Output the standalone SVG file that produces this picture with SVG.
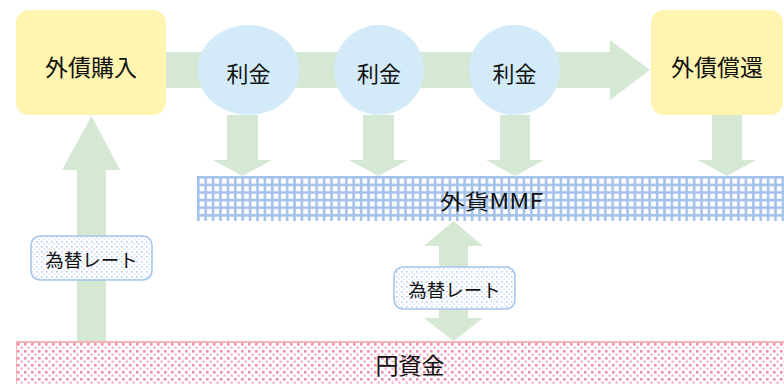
<svg xmlns="http://www.w3.org/2000/svg" width="784" height="384" viewBox="0 0 784 384">
<defs>
<pattern id="grid" x="197" y="176" width="7.4" height="7.6" patternUnits="userSpaceOnUse">
<rect width="7.4" height="7.6" fill="#ffffff"/>
<rect x="0" y="0" width="2.6" height="7.6" fill="#a4c2ea"/>
<rect x="0" y="0" width="7.4" height="2.6" fill="#a4c2ea"/>
</pattern>
<pattern id="pinkdots" x="16" y="342" width="7" height="7" patternUnits="userSpaceOnUse">
<rect width="7" height="7" fill="#ffffff"/>
<rect x="1" y="1" width="2.6" height="2.6" fill="#ef8db4"/>
<rect x="4.5" y="4.5" width="2.2" height="2.2" fill="#f4aac6"/>
</pattern>
<pattern id="bluedots" width="5" height="5" patternUnits="userSpaceOnUse">
<rect width="5" height="5" fill="#ffffff"/>
<rect x="1" y="1" width="1.6" height="1.6" fill="#b6cff0"/>
<rect x="3.5" y="3.5" width="1.4" height="1.4" fill="#cbdcf4"/>
</pattern>
</defs>
<style>
.arrow{fill:#d5e8d4}
.box{fill:#fff5b0}
.circ{fill:#d3ebf8}
.t{font-family:"Noto Sans CJK JP","Noto Sans",sans-serif;fill:#111;text-anchor:middle;dominant-baseline:central}
.big{font-size:23px}
.cir{font-size:22px}
.mid{font-size:21px}
.small{font-size:18.5px}
.lbl{fill:url(#bluedots);stroke:#a6c3ec;stroke-width:1.5}
</style>
<g id="connectors">
<polygon class="arrow" points="166,52 610,52 610,40 650,70 610,100 610,88 166,88"/>
<polygon class="arrow" points="227,115 258,115 258,160 272,160 242.5,176 213,160 227,160"/>
<polygon class="arrow" points="363,115 394,115 394,160 408,160 378.5,176 349,160 363,160"/>
<polygon class="arrow" points="500,115 530,115 530,160 544,160 515,176 486,160 500,160"/>
<polygon class="arrow" points="712,115 742,115 742,160 756,160 727,176 698,160 712,160"/>
<polygon class="arrow" points="77,341 106,341 106,170 120,170 91.5,116 62,170 77,170"/>
<polygon class="arrow" points="453.5,221 483,246 468,246 468,318 483,318 453.5,341 424,318 439,318 439,246 424,246"/>
</g>
<g id="mmf">
<rect x="197" y="176" width="587" height="45" fill="url(#grid)"/>
<text class="t mid" x="491.5" y="200" textLength="103" lengthAdjust="spacingAndGlyphs">外貨MMF</text>
</g>
<g id="yen">
<rect x="16" y="342" width="768" height="42" fill="url(#pinkdots)"/>
<line x1="16" y1="342" x2="784" y2="342" stroke="#f4b4b4" stroke-width="2"/>
<line x1="16.5" y1="342" x2="16.5" y2="384" stroke="#f4b4b4" stroke-width="1"/>
<text class="t big" x="410" y="364">円資金</text>
</g>
<g id="buy">
<rect class="box" x="16" y="10" width="150" height="105" rx="13"/>
<text class="t big" x="91" y="66">外債購入</text>
</g>
<g id="repay">
<rect class="box" x="651" y="10" width="132" height="105" rx="13"/>
<text class="t big" x="717" y="66">外債償還</text>
</g>
<g id="int1">
<ellipse class="circ" cx="248.5" cy="70" rx="51" ry="45"/>
<text class="t cir" x="248.5" y="72">利金</text>
</g>
<g id="int2">
<ellipse class="circ" cx="379" cy="70" rx="45" ry="45"/>
<text class="t cir" x="379" y="72">利金</text>
</g>
<g id="int3">
<ellipse class="circ" cx="514.5" cy="70" rx="45.5" ry="45"/>
<text class="t cir" x="514.5" y="72">利金</text>
</g>
<g id="rate1">
<rect class="lbl" x="31" y="236" width="121" height="44" rx="9"/>
<text class="t small" x="91.5" y="259">為替レート</text>
</g>
<g id="rate2">
<rect class="lbl" x="394" y="267" width="121" height="42" rx="9"/>
<text class="t small" x="454.5" y="289">為替レート</text>
</g>
</svg>
